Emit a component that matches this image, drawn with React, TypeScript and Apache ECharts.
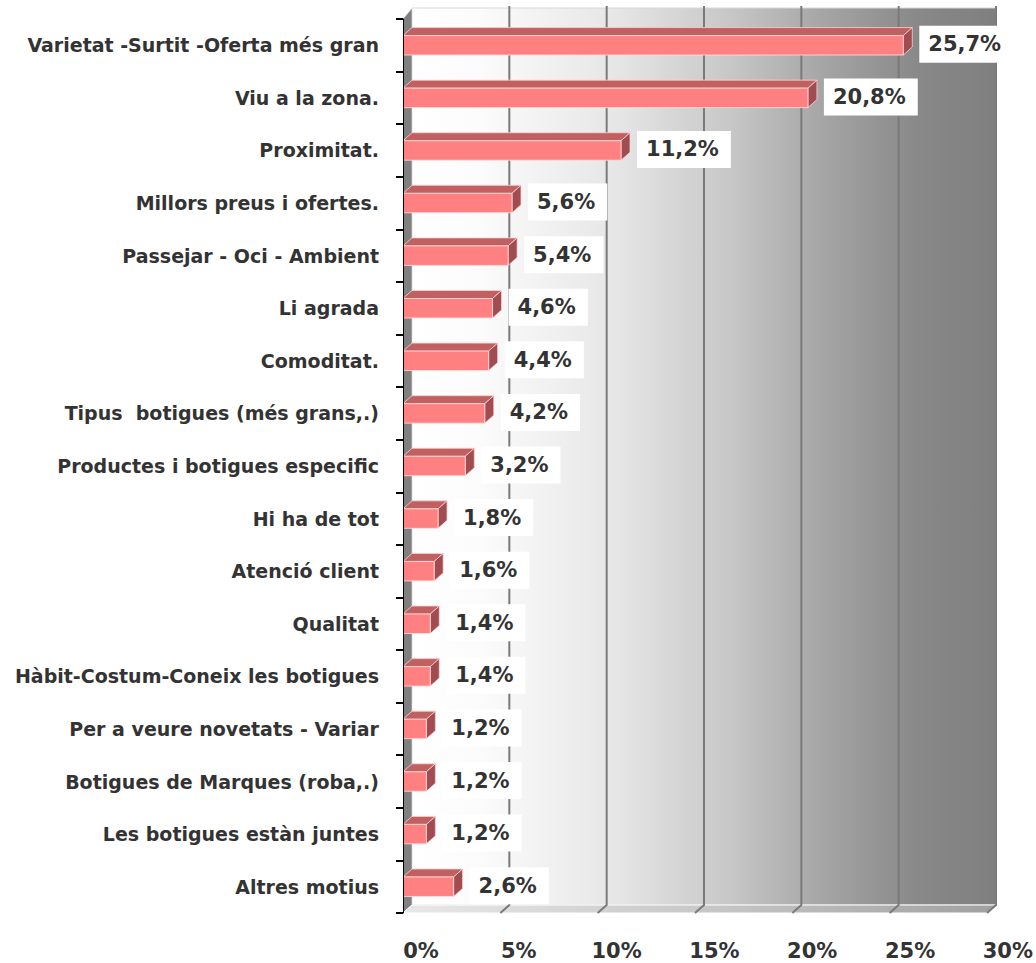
import React, { useEffect, useRef } from "react";
import * as echarts from "echarts";

const categories: string[] = [
  "Varietat -Surtit -Oferta més gran",
  "Viu a la zona.",
  "Proximitat.",
  "Millors preus i ofertes.",
  "Passejar - Oci - Ambient",
  "Li agrada",
  "Comoditat.",
  "Tipus  botigues (més grans,.)",
  "Productes i botigues especific",
  "Hi ha de tot",
  "Atenció client",
  "Qualitat",
  "Hàbit-Costum-Coneix les botigues",
  "Per a veure novetats - Variar",
  "Botigues de Marques (roba,.)",
  "Les botigues estàn juntes",
  "Altres motius",
];

const values: number[] = [25.7, 20.8, 11.2, 5.6, 5.4, 4.6, 4.4, 4.2, 3.2, 1.8, 1.6, 1.4, 1.4, 1.2, 1.2, 1.2, 2.6];

const xTicks: number[] = [0, 5, 10, 15, 20, 25, 30];

const DX = 9;
const DY = -8;
const FONT = 'Tahoma, "DejaVu Sans", sans-serif';

export default function App() {
  const ref = useRef<HTMLDivElement>(null);
  useEffect(() => {
    if (!ref.current) return;
    const chart = echarts.init(ref.current, undefined, { renderer: "svg" });

    const barData = values.map((v, i) => [v, i]);

    const option: any = {
      animation: false,
      backgroundColor: "#ffffff",
      grid: [
        { left: 403, width: 584, top: 19, height: 894 },
        { left: 421, width: 587, top: 929, height: 1 },
      ],
      xAxis: [
        {
          type: "value",
          gridIndex: 0,
          min: 0,
          max: 30,
          interval: 5,
          axisLine: { show: false },
          axisTick: { show: false },
          axisLabel: { show: false },
          splitLine: { show: false },
        },
        {
          type: "value",
          gridIndex: 1,
          min: 0,
          max: 30,
          interval: 5,
          axisLine: { show: false },
          axisTick: { show: false },
          splitLine: { show: false },
          axisLabel: {
            margin: 10,
            formatter: (v: number) => (xTicks.includes(v) ? v + "%" : ""),
            color: "#333333",
            fontWeight: "bold",
            fontSize: 21,
            fontFamily: FONT,
          },
        },
      ],
      yAxis: [
        {
          type: "category",
          gridIndex: 0,
          data: categories,
          inverse: true,
          axisLine: { show: true, lineStyle: { color: "#000000", width: 1 } },
          axisTick: { show: true, length: 7, lineStyle: { color: "#000000", width: 2 } },
          axisLabel: {
            margin: 24,
            color: "#333333",
            fontWeight: "bold",
            fontSize: 19,
            fontFamily: FONT,
          },
          splitLine: { show: false },
          z: 5,
        },
        {
          type: "value",
          gridIndex: 1,
          show: false,
        },
      ],
      series: [
        {
          type: "custom",
          xAxisIndex: 0,
          yAxisIndex: 0,
          z: 1,
          silent: true,
          data: [[0, 0]],
          renderItem: (params: any, api: any) => {
            const cs = params.coordSys;
            const x0 = cs.x;
            const y0 = cs.y;
            const y1 = cs.y + cs.height;
            const x30 = api.coord([30, 0])[0];
            const children: any[] = [];
            children.push({
              type: "rect",
              shape: { x: x0 + DX, y: y0 + DY - 3, width: x30 - x0, height: y1 - y0 + 3 },
              style: {
                fill: new echarts.graphic.LinearGradient(0, 0, 1, 0, [
                  { offset: 0, color: "#ffffff" },
                  { offset: 0.12, color: "#fbfbfb" },
                  { offset: 0.35, color: "#e6e6e6" },
                  { offset: 0.55, color: "#c6c6c6" },
                  { offset: 0.72, color: "#a2a2a2" },
                  { offset: 0.87, color: "#888888" },
                  { offset: 1, color: "#7f7f7f" },
                ]),
                stroke: "#d8d8d8",
                lineWidth: 1,
              },
            });
            children.push({
              type: "polygon",
              shape: {
                points: [
                  [x0, y0],
                  [x0 + DX, y0 + DY - 3],
                  [x0 + DX, y1 + DY],
                  [x0, y1],
                ],
              },
              style: { fill: "#808080", stroke: "#ffffff", lineWidth: 0.5 },
            });
            children.push({
              type: "polygon",
              shape: {
                points: [
                  [x0, y1],
                  [x0 + DX, y1 + DY],
                  [x30 + DX, y1 + DY],
                  [x30, y1],
                ],
              },
              style: {
                fill: new echarts.graphic.LinearGradient(0, 0, 1, 0, [
                  { offset: 0, color: "#e8e8e8" },
                  { offset: 0.5, color: "#c8c8c8" },
                  { offset: 1, color: "#a0a0a0" },
                ]),
                stroke: "#ffffff",
                lineWidth: 1,
              },
            });
            xTicks.forEach((t) => {
              if (t === 0) return;
              const x = api.coord([t, 0])[0];
              children.push({
                type: "polyline",
                shape: {
                  points: [
                    [x + DX, y0 + DY - 5],
                    [x + DX, y1 + DY],
                    [x, y1],
                  ],
                },
                style: { stroke: "#7a7a7a", lineWidth: 2, fill: null },
              });
            });
            return { type: "group", children };
          },
        },
        {
          type: "custom",
          xAxisIndex: 0,
          yAxisIndex: 0,
          z: 3,
          data: barData,
          renderItem: (params: any, api: any) => {
            const v = api.value(0);
            const idx = api.value(1);
            const start = api.coord([0, idx]);
            const end = api.coord([v, idx]);
            const band = api.size([0, 1])[1];
            const h = band * 0.37;
            const xa = start[0];
            const xb = end[0];
            const yt = start[1] - h / 2;
            const yb = start[1] + h / 2;
            const label = v.toFixed(1).replace(".", ",") + "%";
            return {
              type: "group",
              children: [
                {
                  type: "polygon",
                  shape: { points: [[xa, yt], [xa + DX, yt + DY], [xb + DX, yt + DY], [xb, yt]] },
                  style: { fill: "#c06060", stroke: "#ffd0d0", lineWidth: 0.8 },
                },
                {
                  type: "polygon",
                  shape: { points: [[xb, yt], [xb + DX, yt + DY], [xb + DX, yb + DY], [xb, yb]] },
                  style: { fill: "#a04c50", stroke: "#ffd0d0", lineWidth: 0.8 },
                },
                {
                  type: "rect",
                  shape: { x: xa, y: yt, width: xb - xa, height: h },
                  style: { fill: "#ff8080", stroke: "#ffe0e0", lineWidth: 0.8 },
                },
                {
                  type: "text",
                  style: {
                    text: label,
                    x: xb + DX + 7,
                    y: start[1] - 1,
                    align: "left",
                    verticalAlign: "middle",
                    fill: "#333333",
                    fontSize: 21,
                    fontWeight: "bold",
                    fontFamily: FONT,
                    backgroundColor: "#ffffff",
                    padding: [8, 12, 8, 9],
                  },
                },
              ],
            };
          },
        },
      ],
    };

    chart.setOption(option);
    return () => chart.dispose();
  }, []);

  return (
    <div
      ref={ref}
      style={{ position: "absolute", left: 0, top: 0, width: 1036, height: 963 }}
    />
  );
}
